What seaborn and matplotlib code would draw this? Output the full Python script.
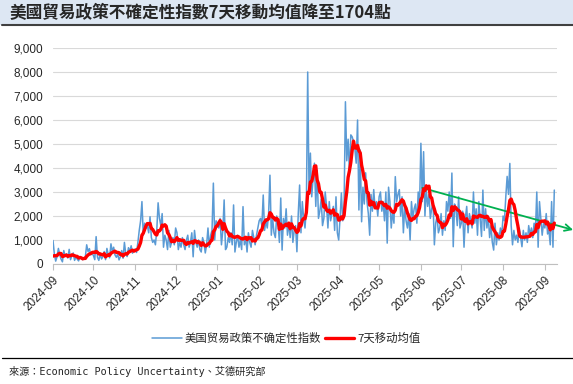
import pandas as pd
import matplotlib
matplotlib.use("Agg")
import matplotlib.pyplot as plt
import matplotlib.dates as mdates
import matplotlib.ticker as mticker
from matplotlib.lines import Line2D
from matplotlib.patches import Rectangle
import seaborn as sns

# ── Données (valeurs journalières) ───────────────────────────────────────────
aug_2024 = [300, 150, 250, 200, 180, 250]
sep_2024 = [980, 420, 120, 300, 650, 380, 200, 90, 560, 310, 420, 250, 610, 180, 340,
            460, 150, 280, 200, 130, 320, 260, 180, 240, 300, 800, 520, 640, 380, 460]
oct_2024 = [350, 180, 1140, 280, 150, 420, 210, 300, 520, 180, 650, 400, 260, 840, 520, 700,
            380, 280, 410, 170, 300, 560, 240, 900, 420, 310, 680, 520, 760, 450, 600]
nov_2024 = [620, 480, 900, 1400, 1800, 2600, 1200, 1700, 1500, 1600, 1300, 1970, 1100, 900, 1000,
            800, 1400, 2550, 1900, 1600, 2100, 700, 1200, 1000, 600, 1400, 700, 900, 1100, 800]
dec_2024 = [1500, 1300, 600, 900, 700, 1100, 800, 600, 1000, 1200, 700, 900, 1300, 300, 1400, 900,
            700, 1000, 600, 500, 1100, 900, 460, 800, 1500, 700, 1200, 1400, 3370, 1000, 1800]
jan_2025 = [1700, 1500, 1900, 800, 1400, 2670, 600, 700, 1100, 900, 1300, 800, 2460, 500, 900, 1200,
            700, 1000, 600, 2390, 800, 1100, 500, 1300, 900, 700, 1400, 1100, 800, 1200, 1500]
feb_2025 = [1800, 1900, 1600, 2875, 1400, 1800, 1500, 2100, 3700, 1200, 1900, 1300, 1100, 2000,
            1700, 900, 2750, 580, 1900, 1500, 2300, 1200, 1700, 1100, 2000, 900, 1400, 1600]
mar_2025 = [510, 2100, 3290, 1300, 2600, 1900, 1500, 2300, 8000, 3000, 4620, 2800, 3600, 4200, 2400,
            3900, 1900, 2200, 2700, 1600, 1900, 3000, 2400, 1500, 2600, 1800, 2100, 2400, 1400, 2800, 1300]
apr_2025 = [1000, 1900, 2960, 1800, 2400, 6760, 4300, 5200, 3800, 5380, 5300, 5100, 4800, 4200, 6000,
            2250, 4750, 1760, 3200, 2500, 3800, 2600, 2100, 1200, 2900, 2200, 3100, 2300, 2600, 2000]
may_2025 = [2800, 3000, 2200, 2600, 1800, 3000, 870, 3200, 2600, 1500, 2200, 1700, 3640, 2600, 2900, 3100,
            2000, 2800, 1300, 2400, 1800, 1500, 2100, 1000, 2600, 1900, 2300, 2500, 1700, 3000, 2400]
jun_2025 = [5030, 2600, 4680, 2000, 3100, 2400, 2900, 1900, 2300, 2600, 800, 1700, 2000, 1300, 1500,
            2100, 1200, 1800, 1400, 2600, 2200, 3000, 1900, 3790, 720, 2500, 2300, 1600, 2800, 1500]
jul_2025 = [1700, 2200, 700, 1900, 2400, 1300, 2100, 1800, 1500, 3000, 1700, 2300, 1200, 2600, 1900, 1150,
            3080, 1400, 2300, 1500, 2000, 1100, 1600, 900, 580, 1700, 800, 1300, 1000, 1500, 1200]
aug_2025 = [2000, 1800, 2800, 3650, 2900, 4190, 1600, 800, 1400, 1000, 1200, 900, 1500, 1100, 720, 1400,
            1000, 1300, 900, 1600, 1200, 1500, 1100, 1700, 1400, 3000, 700, 2600, 1900, 1200, 1700]
sep_2025 = [1500, 2100, 1250, 1400, 800, 2600, 700, 3080]

values = (aug_2024 + sep_2024 + oct_2024 + nov_2024 + dec_2024 + jan_2025 + feb_2025
          + mar_2025 + apr_2025 + may_2025 + jun_2025 + jul_2025 + aug_2025 + sep_2025)

TITLE = "美國貿易政策不確定性指數7天移動均值降至1704點"
SOURCE = "來源：Economic Policy Uncertainty、艾德研究部"
LABEL_TPU = "美国贸易政策不确定性指数"
LABEL_MA = "7天移动均值"

# tendance (flèche verte) : début / fin
trend_dates = ["2025-06-02", "2025-09-22"]
trend_values = [3170, 1420]

df = pd.DataFrame({"date": pd.date_range("2024-08-26", periods=len(values), freq="D"),
                   "tpu": values})
df["ma7"] = df["tpu"].rolling(7).mean()

# ── Figure ───────────────────────────────────────────────────────────────────
sns.set_style("white")
plt.rcParams["font.family"] = ["Liberation Sans", "Noto Sans CJK SC"]

fig = plt.figure(figsize=(5.73, 3.84), dpi=100)
ax = fig.add_axes([53 / 573, 1 - 264 / 384, 504 / 573, 216 / 384])

sns.lineplot(data=df, x="date", y="tpu", ax=ax, color="#5b9bd5", lw=1.1,
             label=LABEL_TPU, zorder=2)
sns.lineplot(data=df, x="date", y="ma7", ax=ax, color="#ff0000", lw=2.4,
             label=LABEL_MA, zorder=4)

ax.annotate("", xy=(pd.Timestamp(trend_dates[1]), trend_values[1]),
            xytext=(pd.Timestamp(trend_dates[0]), trend_values[0]),
            arrowprops=dict(arrowstyle="->", color="#00b050", lw=1.3,
                            mutation_scale=12, shrinkA=0, shrinkB=0, clip_on=False),
            annotation_clip=False, zorder=3)

ax.set_xlim(pd.Timestamp("2024-09-01"), pd.Timestamp("2025-09-10"))
ax.set_ylim(0, 9000)
ax.yaxis.set_major_locator(mticker.MultipleLocator(1000))
ax.yaxis.set_major_formatter(mticker.FuncFormatter(lambda v, p: f"{int(v):,}"))
ax.xaxis.set_major_locator(mdates.MonthLocator())
ax.xaxis.set_major_formatter(mdates.DateFormatter("%Y-%m"))

ax.grid(axis="y", color="#d9d9d9", lw=0.8)
ax.set_axisbelow(True)
for s in ["top", "right", "left"]:
    ax.spines[s].set_visible(False)
ax.spines["bottom"].set_color("#bfbfbf")
ax.spines["bottom"].set_linewidth(0.8)
ax.tick_params(axis="y", length=0, pad=7, labelsize=8.5, labelcolor="#262626")
ax.tick_params(axis="x", length=4, width=0.8, color="#bfbfbf", labelsize=8.5,
               labelcolor="#262626", bottom=True)
plt.setp(ax.get_xticklabels(), rotation=45, ha="right", rotation_mode="anchor")
ax.set_xlabel("")
ax.set_ylabel("")

ax.legend(loc="center", bbox_to_anchor=(0.5, 1 - 338 / 384), bbox_transform=fig.transFigure,
          ncol=2, frameon=False, handlelength=2.6, columnspacing=0.3, handletextpad=0.3,
          prop={"family": "Noto Sans CJK SC", "size": 8.2})

# bandeau du titre
fig.add_artist(Rectangle((0, 1 - 25 / 384), 1, 25 / 384, transform=fig.transFigure,
                         facecolor="#dde7f3", edgecolor="none", zorder=0))
fig.add_artist(Line2D([0.004, 1], [1 - 25 / 384] * 2, transform=fig.transFigure,
                      color="#404040", lw=1.5))
fig.text(10 / 573, 1 - 13 / 384, TITLE, ha="left", va="center", fontsize=12,
         fontweight="bold", family=["Noto Sans CJK TC"])

# source
fig.add_artist(Line2D([0.004, 1], [1 - 358 / 384] * 2, transform=fig.transFigure,
                      color="#000000", lw=0.9))
fig.text(9 / 573, 1 - 371 / 384, SOURCE, ha="left", va="center", fontsize=7.3,
         family=["DejaVu Sans Mono", "Noto Sans CJK TC"])

fig.savefig("out.png", dpi=100)
